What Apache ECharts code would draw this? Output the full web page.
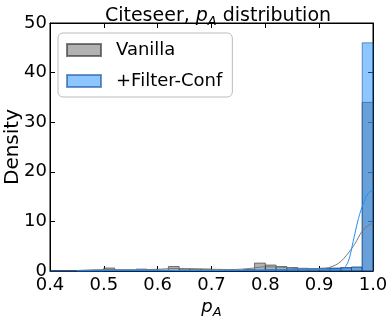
<!DOCTYPE html>
<html lang="en">
<head>
    <meta charset="UTF-8">
    <title>Citeseer pA distribution</title>
    <script src="https://cdn.jsdelivr.net/npm/echarts@6/dist/echarts.min.js"></script>
</head>
<body style="margin:0">
    <div id="main" style="width: 391px;height:322px;"></div>
    <script>
        // histogram bins (left edges, width 0.02)
        const binStarts = [0.40, 0.42, 0.44, 0.46, 0.48, 0.50, 0.52, 0.54, 0.56, 0.58,
                           0.60, 0.62, 0.64, 0.66, 0.68, 0.70, 0.72, 0.74, 0.76, 0.78,
                           0.80, 0.82, 0.84, 0.86, 0.88, 0.90, 0.92, 0.94, 0.96, 0.98];
        const binWidth = 0.02;
        const vanillaDensity = [0, 0, 0, 0, 0.05, 0.6, 0.1, 0.1, 0.1, 0.2,
                                0.2, 0.9, 0.4, 0.35, 0.35, 0.2, 0.15, 0.15, 0.3, 1.6,
                                1.2, 0.9, 0.7, 0.55, 0.5, 0.55, 0.6, 0.7, 0.75, 34];
        const filterDensity = [0, 0, 0, 0, 0, 0.1, 0.2, 0.2, 0.4, 0.2,
                               0.1, 0.1, 0.1, 0.1, 0.1, 0.1, 0.1, 0.1, 0.15, 0.2,
                               0.3, 0.3, 0.35, 0.4, 0.4, 0.45, 0.5, 0.6, 0.8, 46];

        // kde curves
        const vanillaKde = [[0.45, 0.1], [0.5, 0.3], [0.55, 0.25], [0.6, 0.35], [0.63, 0.5],
                            [0.67, 0.45], [0.7, 0.35], [0.74, 0.3], [0.77, 0.5], [0.8, 0.85],
                            [0.83, 0.75], [0.86, 0.5], [0.89, 0.5], [0.911, 0.55], [0.936, 1.55],
                            [0.954, 3.6], [0.967, 5.6], [0.979, 7.9], [0.988, 8.9], [0.998, 9.6], [1.0, 9.7]];
        const filterKde = [[0.45, 0.02], [0.5, 0.1], [0.55, 0.15], [0.6, 0.12], [0.7, 0.1],
                           [0.8, 0.2], [0.85, 0.25], [0.9, 0.3], [0.93, 0.25], [0.942, 0.3],
                           [0.954, 1.9], [0.963, 5.9], [0.973, 10.6], [0.982, 13.6], [0.991, 15.7], [1.0, 16.3]];

        const xTicks = [0.4, 0.5, 0.6, 0.7, 0.8, 0.9, 1.0];
        const yTicks = [0, 10, 20, 30, 40, 50];

        const font = 'DejaVu Sans';
        const grayFill = 'rgba(128,128,128,0.6)';
        const grayEdge = 'rgba(40,40,40,0.6)';
        const blueFill = 'rgba(30,144,255,0.5)';
        const blueEdge = 'rgba(20,80,160,0.6)';

        function histData(vals) {
            return binStarts.map((s, i) => [s, s + binWidth, vals[i]]);
        }

        function barRenderer(fill, edge) {
            return function (params, api) {
                var p0 = api.coord([api.value(0), api.value(2)]);
                var p1 = api.coord([api.value(1), 0]);
                return {
                    type: 'rect',
                    shape: { x: p0[0], y: p0[1], width: p1[0] - p0[0], height: p1[1] - p0[1] },
                    style: { fill: fill, stroke: edge, lineWidth: 1 }
                };
            };
        }

        var chartDom = document.getElementById('main');
        var myChart = echarts.init(chartDom);

        function mathRich(size) {
            return {
                i: { fontFamily: font, fontStyle: 'italic', fontSize: size, color: '#000' },
                s: { fontFamily: font, fontStyle: 'italic', fontSize: Math.round(size * 0.7), color: '#000', padding: [Math.round(size * 0.55), 0, 0, 0] }
            };
        }

        const xBase = {
            type: 'value',
            min: 0.4, max: 1.0, interval: 0.1,
            axisLine: { onZero: false, lineStyle: { color: '#000' } },
            axisTick: { inside: true, length: 5, lineStyle: { color: '#000' } },
            splitLine: { show: false }
        };
        const yBase = {
            type: 'value',
            min: 0, max: 50, interval: 10,
            axisLine: { show: true, onZero: false, lineStyle: { color: '#000' } },
            axisTick: { show: true, inside: true, length: 5, lineStyle: { color: '#000' } },
            splitLine: { show: false }
        };

        var option = {
            animation: false,
            textStyle: { fontFamily: font },
            title: {
                text: 'Citeseer, {i|p}{s|A} distribution',
                left: 213, top: 0, textAlign: 'center',
                textStyle: { fontFamily: font, fontWeight: 'normal', fontSize: 19, color: '#000', rich: mathRich(19) }
            },
            legend: {
                data: [{ name: 'Vanilla', icon: 'rect' }, { name: '+Filter-Conf', icon: 'rect' }],
                orient: 'vertical',
                left: 58, top: 33,
                itemWidth: 34, itemHeight: 12, itemGap: 13,
                padding: [8, 10, 7, 8],
                borderColor: '#bbb', borderWidth: 1, borderRadius: 5,
                textStyle: { fontFamily: font, fontSize: 18, color: '#000', padding: [0, 0, 0, 10] }
            },
            grid: {
                left: 50, right: 18, top: 23, bottom: 51,
                containLabel: false, outerBoundsMode: 'none',
                show: true, borderColor: '#000', borderWidth: 1
            },
            xAxis: [
                Object.assign({}, xBase, {
                    position: 'bottom',
                    name: '{i|p}{s|A}',
                    nameLocation: 'middle', nameGap: 25, nameMoveOverlap: false,
                    nameTextStyle: { rich: mathRich(18) },
                    axisLabel: {
                        fontFamily: font, fontSize: 18, color: '#000', margin: 5,
                        formatter: v => xTicks.some(t => Math.abs(t - v) < 1e-6) ? v.toFixed(1) : ''
                    }
                }),
                Object.assign({}, xBase, { position: 'top', axisLabel: { show: false } })
            ],
            yAxis: [
                Object.assign({}, yBase, {
                    position: 'left',
                    name: 'Density',
                    nameLocation: 'middle', nameGap: 27, nameMoveOverlap: false,
                    nameTextStyle: { fontFamily: font, fontSize: 20, color: '#000' },
                    axisLabel: {
                        fontFamily: font, fontSize: 18, color: '#000', margin: 3,
                        formatter: v => yTicks.indexOf(v) >= 0 ? String(v) : ''
                    }
                }),
                Object.assign({}, yBase, { position: 'right', axisLabel: { show: false } })
            ],
            series: [
                {
                    name: 'Vanilla',
                    type: 'custom',
                    renderItem: barRenderer(grayFill, grayEdge),
                    itemStyle: { color: grayFill, borderColor: grayEdge, borderWidth: 1 },
                    encode: { x: [0, 1], y: 2 },
                    data: histData(vanillaDensity),
                    z: 2
                },
                {
                    name: '+Filter-Conf',
                    type: 'custom',
                    renderItem: barRenderer(blueFill, blueEdge),
                    itemStyle: { color: blueFill, borderColor: blueEdge, borderWidth: 1 },
                    encode: { x: [0, 1], y: 2 },
                    data: histData(filterDensity),
                    z: 3
                },
                {
                    name: 'kde-vanilla',
                    type: 'line',
                    data: vanillaKde,
                    smooth: 0.3,
                    showSymbol: false,
                    lineStyle: { color: '#777', width: 1 },
                    z: 4
                },
                {
                    name: 'kde-filter',
                    type: 'line',
                    data: filterKde,
                    smooth: 0.3,
                    showSymbol: false,
                    lineStyle: { color: '#1e90ff', width: 1 },
                    z: 5
                }
            ]
        };

        myChart.setOption(option);
    </script>
</body>
</html>
